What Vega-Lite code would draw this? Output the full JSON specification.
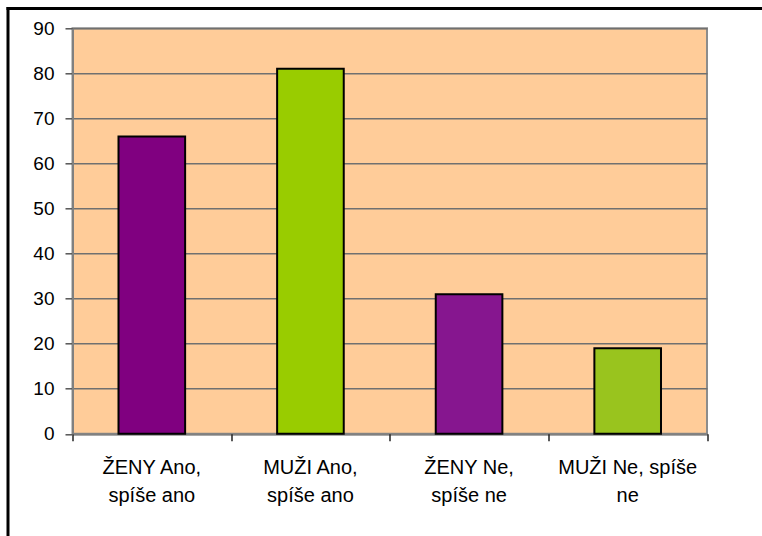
{
  "$schema": "https://vega.github.io/schema/vega-lite/v6.json",
  "autosize": {"type": "none"},
  "padding": {"left": 72.5, "top": 28.3, "right": 55, "bottom": 102.2},
  "width": 634.5,
  "height": 405.5,
  "background": "white",
  "config": {
    "view": {"stroke": "#8c8c8c", "strokeWidth": 2, "fill": "#FFCC99"},
    "font": "Liberation Sans"
  },
  "data": {
    "values": [
      {"kategorie": "ŽENY Ano, spíše ano", "hodnota": 66},
      {"kategorie": "MUŽI Ano, spíše ano", "hodnota": 81},
      {"kategorie": "ŽENY Ne, spíše ne", "hodnota": 31},
      {"kategorie": "MUŽI Ne, spíše ne", "hodnota": 19}
    ]
  },
  "resolve": {"scale": {"x": "independent", "y": "independent"}},
  "layer": [
    {
      "mark": {"type": "bar", "stroke": "black", "strokeWidth": 2},
      "encoding": {
        "x": {
          "field": "kategorie",
          "type": "nominal",
          "sort": null,
          "scale": {"paddingInner": 0.58, "paddingOuter": 0.29},
          "axis": {
            "title": null,
            "orient": "bottom",
            "ticks": false,
            "domainColor": "#808080",
            "domainWidth": 2,
            "labelAngle": 0,
            "labelFont": "Liberation Sans",
            "labelFontSize": 20,
            "labelColor": "black",
            "labelPadding": 23.5,
            "labelLineHeight": 28.4,
            "labelBaseline": "top",
            "labelLimit": 300,
            "labelExpr": "datum.value == 'MUŽI Ne, spíše ne' ? ['MUŽI Ne, spíše', 'ne'] : [slice(datum.value, 0, indexof(datum.value, ',') + 1), slice(datum.value, indexof(datum.value, ',') + 2)]"
          }
        },
        "y": {
          "field": "hodnota",
          "type": "quantitative",
          "scale": {"domain": [0, 90], "nice": false},
          "axis": {
            "title": null,
            "orient": "left",
            "values": [0, 10, 20, 30, 40, 50, 60, 70, 80, 90],
            "labelFont": "Liberation Sans",
            "labelFontSize": 19,
            "labelColor": "black",
            "labelPadding": 11,
            "tickSize": 7.5,
            "tickColor": "#555555",
            "tickWidth": 1.5,
            "domainColor": "#808080",
            "domainWidth": 2,
            "grid": true,
            "gridColor": "#707070",
            "gridWidth": 1.5,
            "gridOpacity": 1
          }
        },
        "color": {
          "field": "kategorie",
          "type": "nominal",
          "legend": null,
          "scale": {
            "domain": ["ŽENY Ano, spíše ano", "MUŽI Ano, spíše ano", "ŽENY Ne, spíše ne", "MUŽI Ne, spíše ne"],
            "range": ["#800080", "#99CC00", "#86168F", "#99C41E"]
          }
        }
      }
    },
    {
      "mark": {"type": "rule", "opacity": 0},
      "encoding": {
        "x": {
          "datum": 0,
          "type": "quantitative",
          "scale": {"domain": [0, 4]},
          "axis": {
            "title": null,
            "orient": "bottom",
            "values": [0, 1, 2, 3, 4],
            "labels": false,
            "domain": false,
            "grid": false,
            "ticks": true,
            "tickSize": 7,
            "tickColor": "#222222",
            "tickWidth": 1.5
          }
        }
      }
    },
    {
      "mark": {"type": "point", "opacity": 0},
      "encoding": {
        "x": {
          "datum": 0,
          "type": "quantitative",
          "scale": {"domain": [0, 1], "range": [-65, 689.5]},
          "axis": {
            "title": null,
            "orient": "top",
            "offset": 20.3,
            "labels": false,
            "ticks": false,
            "grid": false,
            "domain": true,
            "domainColor": "black",
            "domainWidth": 3,
            "domainCap": "square"
          }
        },
        "y": {
          "datum": 0,
          "type": "quantitative",
          "scale": {"domain": [0, 1], "range": [507.7, -20.3]},
          "axis": {
            "title": null,
            "orient": "left",
            "offset": 65,
            "labels": false,
            "ticks": false,
            "grid": false,
            "domain": true,
            "domainColor": "black",
            "domainWidth": 3,
            "domainCap": "square"
          }
        }
      }
    }
  ]
}
